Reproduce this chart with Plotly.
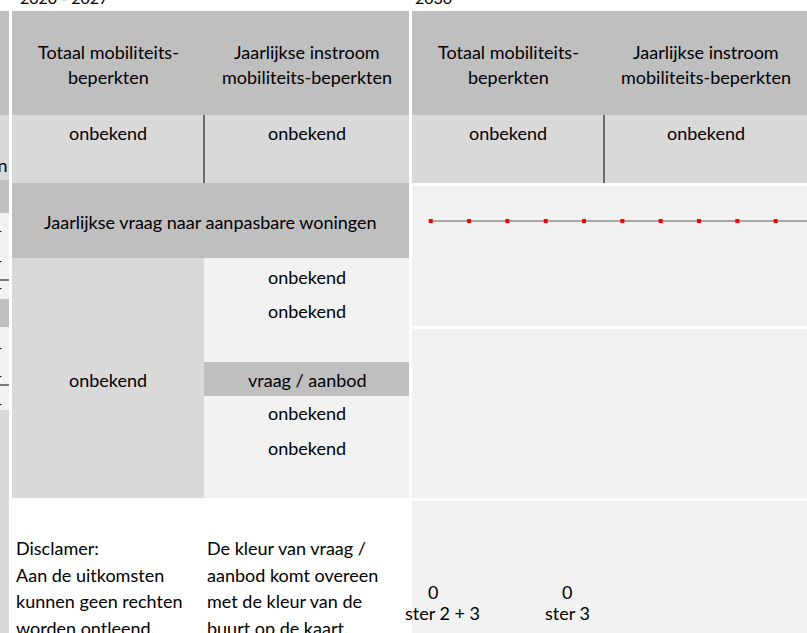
import plotly.graph_objects as go

W, H = 807, 633

# data
years = list(range(2020, 2031))
vraag_aanbod = [0] * len(years)

period_labels = ["2020 - 2027", "2030"]
header_lines = [["Totaal mobiliteits-", "beperkten"],
                ["Jaarlijkse instroom", "mobiliteits-beperkten"]]
row_values = ["onbekend", "onbekend"]
vraag_title = "Jaarlijkse vraag naar aanpasbare woningen"
vraag_left = "onbekend"
vraag_right = ["onbekend", "onbekend", "vraag / aanbod", "onbekend", "onbekend"]
disclaimer = ["Disclamer:", "Aan de uitkomsten", "kunnen geen rechten", "worden ontleend."]
kleur_note = ["De kleur van vraag /", "aanbod komt overeen", "met de kleur van de", "buurt op de kaart."]
ster_values = [0, 0]
ster_labels = ["ster 2 + 3", "ster 3"]

DARK = "#bfbfbf"
MID = "#d9d9d9"
LIGHT = "#f2f2f2"
FONT = "Lato, Carlito, Calibri, sans-serif"
FS = 18

fig = go.Figure()

# invisible trace so the pixel-space axes exist
fig.add_trace(go.Scatter(x=[0, W], y=[0, H], mode="markers", marker=dict(opacity=0),
                         hoverinfo="skip", showlegend=False))

# vraag/aanbod line in the right panel
fig.add_trace(go.Scatter(
    x=years, y=vraag_aanbod, xaxis="x2", yaxis="y2",
    mode="lines+markers",
    line=dict(color="#a6a6a6", width=2),
    marker=dict(symbol="square", size=4, color="red"),
    showlegend=False, hoverinfo="skip",
))

shapes = []


def rect(x0, y0, x1, y1, color):
    shapes.append(dict(type="rect", xref="x", yref="y", x0=x0, x1=x1, y0=y0, y1=y1,
                       fillcolor=color, line=dict(width=0), layer="below"))


def vline(x, y0, y1):
    shapes.append(dict(type="line", xref="x", yref="y", x0=x, x1=x, y0=y0, y1=y1,
                       line=dict(color="black", width=1)))


def hline(x0, x1, y):
    shapes.append(dict(type="line", xref="x", yref="y", x0=x0, x1=x1, y0=y, y1=y,
                       line=dict(color="black", width=1)))


annotations = []


def text(x, y, s, anchor="center", size=FS):
    annotations.append(dict(x=x, y=y, xref="x", yref="y", text=s, showarrow=False,
                            xanchor=anchor, yanchor="middle",
                            font=dict(family=FONT, size=size, color="black")))


# left strip (cut-off neighbour table)
rect(0, 11, 9, 115, DARK)
rect(0, 115, 9, 180, MID)
rect(0, 180, 9, 213, DARK)
rect(0, 213, 9, 299, LIGHT)
rect(0, 299, 9, 327, DARK)
rect(0, 327, 9, 410, LIGHT)
rect(0, 410, 9, 633, MID)
hline(0, 9, 280)
hline(0, 9, 385)
text(10, 165, "en", "right")
for yy in [230, 260, 287, 347, 375, 403]:
    text(4, yy, "-", "right", size=14)

# left block
rect(12, 11, 409, 115, DARK)
rect(12, 115, 409, 183, MID)
vline(204, 115, 183)
rect(12, 183, 409, 258, DARK)
rect(12, 258, 204, 498, MID)
rect(204, 258, 409, 498, LIGHT)
rect(204, 362, 409, 396, DARK)

# right block
rect(412, 11, 807, 115, DARK)
rect(412, 115, 807, 183, MID)
vline(604, 115, 183)
rect(412, 186, 807, 326, LIGHT)
rect(412, 329, 807, 498, LIGHT)
rect(412, 501, 807, 633, LIGHT)

# header and value texts for both periods
for bx, col_x in [(0, (108, 307)), (400, (108, 306))]:
    for (cx, lines, val) in zip(col_x, header_lines, row_values):
        text(bx + cx, 52, lines[0])
        text(bx + cx, 77, lines[1])
        text(bx + cx, 133, val)

text(210, 222, vraag_title)
text(108, 380, vraag_left)
for yy, s in zip([277, 311, 380, 413, 448], vraag_right):
    text(307, yy, s)

for i, (a, b) in enumerate(zip(disclaimer, kleur_note)):
    text(14, 548 + 26.5 * i, a, "left")
    text(205, 548 + 26.5 * i, b, "left")

for cx, v, lab in zip([442, 567], ster_values, ster_labels):
    text(433 if lab == ster_labels[0] else cx, 592, str(v))
    text(cx, 613, lab)

# period titles, mostly cut off at the top edge
for px, lab in zip([18, 413], period_labels):
    annotations.append(dict(x=px / W, y=1 + 3 / H, xref="paper", yref="paper", text=lab,
                            showarrow=False, xanchor="left", yanchor="middle",
                            font=dict(family=FONT, size=16, color="black")))

fig.update_layout(
    width=W, height=H,
    margin=dict(l=0, r=0, t=0, b=0),
    paper_bgcolor="white", plot_bgcolor="rgba(0,0,0,0)",
    xaxis=dict(range=[0, W], visible=False, domain=[0, 1], fixedrange=True),
    yaxis=dict(range=[H, 0], visible=False, domain=[0, 1], fixedrange=True),
    xaxis2=dict(range=[2020 - 0.488, 2020 + 9.817], visible=False,
                domain=[412 / W, 1], anchor="y2"),
    yaxis2=dict(range=[-3, 1], visible=False,
                domain=[1 - 326 / H, 1 - 186 / H], anchor="x2"),
    shapes=shapes,
    annotations=annotations,
)

fig.write_html("out.html", config={"displayModeBar": False},
               post_script="document.body.style.margin='0px';")
